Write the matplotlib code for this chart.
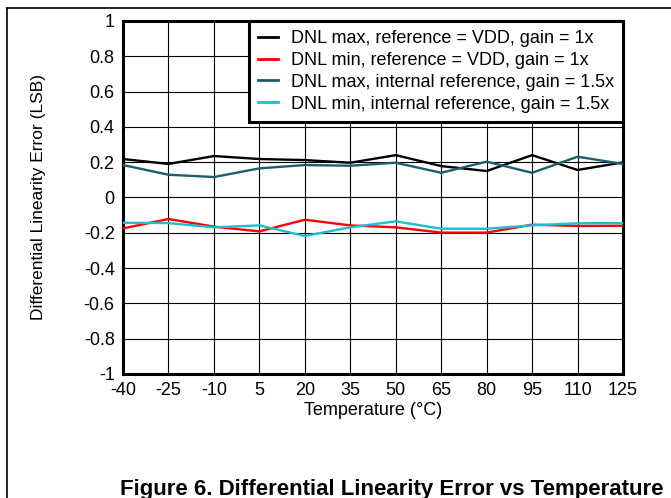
# DNL vs temperature, recreated from a datasheet figure

import matplotlib
matplotlib.use("Agg")
import matplotlib.pyplot as plt
from matplotlib.lines import Line2D

plt.rcParams['font.family'] = ['Liberation Sans', 'DejaVu Sans']

temps = [-40, -25, -10, 5, 20, 35, 50, 65, 80, 95, 110, 125]
dnl_max_vdd = [0.218, 0.19, 0.235, 0.218, 0.212, 0.197, 0.24, 0.178, 0.15, 0.24, 0.156, 0.199]
dnl_min_vdd = [-0.175, -0.122, -0.165, -0.192, -0.126, -0.158, -0.169, -0.199, -0.199, -0.154, -0.161, -0.16]
dnl_max_int = [0.184, 0.129, 0.116, 0.165, 0.184, 0.18, 0.197, 0.14, 0.203, 0.14, 0.231, 0.19]
dnl_min_int = [-0.143, -0.145, -0.169, -0.158, -0.218, -0.169, -0.135, -0.177, -0.177, -0.158, -0.146, -0.145]

labels = ["DNL max, reference = VDD, gain = 1x",
          "DNL min, reference = VDD, gain = 1x",
          "DNL max, internal reference, gain = 1.5x",
          "DNL min, internal reference, gain = 1.5x"]
colors = ["#000000", "#ff0000", "#1b5e6e", "#1bbfd0"]
yticks = [1, 0.8, 0.6, 0.4, 0.2, 0, -0.2, -0.4, -0.6, -0.8, -1]

fig = plt.figure(figsize=(6.71, 4.98), dpi=100)
ax = fig.add_axes([123 / 671, 1 - 374 / 498, 500 / 671, 353 / 498])

series = [dnl_max_vdd, dnl_min_vdd, dnl_max_int, dnl_min_int]
for ys, c, lab in zip(series, colors, labels):
    ax.plot(temps, ys, color=c, lw=1.7, label=lab, zorder=3)

ax.set_xlim(-40, 125)
ax.set_ylim(-1, 1)
ax.set_xticks(temps)
ax.set_xticklabels([str(t) for t in temps])
ax.set_yticks(yticks)
ax.set_yticklabels([f"{v:g}" for v in yticks])
ax.tick_params(length=0, labelsize=13, pad=6)
ax.grid(True, color="black", lw=0.8, zorder=1)
for s in ax.spines.values():
    s.set_linewidth(2.2)

ax.set_xlabel("Temperature (\u00b0C)", fontsize=13, labelpad=2)
ax.set_ylabel("Differential Linearity Error (LSB)", fontsize=12.5, labelpad=27)

handles = [Line2D([], [], color=c, lw=2) for c in colors]
leg = ax.legend(handles, labels, loc="upper right", fontsize=13, borderaxespad=0,
                frameon=True, fancybox=False, framealpha=1, edgecolor="black",
                handlelength=1.1, handletextpad=0.7, labelspacing=0.27,
                borderpad=0.5)
leg.get_frame().set_linewidth(2.2)
leg.set_zorder(5)

# page frame lines
fig.add_artist(Line2D([7 / 671, 1], [1 - 8 / 498, 1 - 8 / 498], color="black", lw=1.2))
fig.add_artist(Line2D([7 / 671, 7 / 671], [0, 1 - 8 / 498], color="black", lw=1.2))

fig.text(392 / 671, 1 - 489 / 498, "Figure 6. Differential Linearity Error vs Temperature",
         ha="center", va="center", fontsize=16, fontweight="bold")

fig.savefig("out.png", dpi=100)
